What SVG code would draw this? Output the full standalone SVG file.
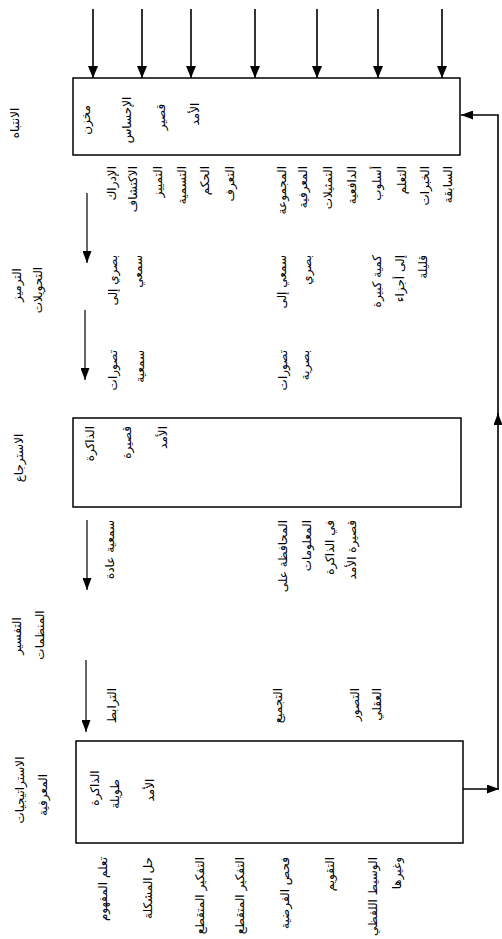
<svg xmlns="http://www.w3.org/2000/svg" width="502" height="939" viewBox="0 0 502 939">
<style>
.box{fill:none;stroke:#000;stroke-width:1.5}
.ln{fill:none;stroke:#000;stroke-width:1.6}
.sl{fill:none;stroke:#000;stroke-width:1.2}
text{font-family:"DejaVu Sans","Noto Sans",sans-serif;font-size:12px;fill:#000}
.e{text-anchor:end}
.m{text-anchor:middle}
</style>
<defs>
<marker id="ah" markerUnits="userSpaceOnUse" markerWidth="12" markerHeight="10" refX="12" refY="5" orient="auto">
<path d="M0,0 L12,5 L0,10 z" fill="#000"/>
</marker>
<marker id="as" markerUnits="userSpaceOnUse" markerWidth="12" markerHeight="9" refX="12" refY="4.5" orient="auto">
<path d="M0,0 L12,4.5 L0,9 z" fill="#000"/>
</marker>
</defs>
<rect width="502" height="939" fill="#fff"/>

<g id="connectors">
<line class="ln" x1="93" y1="9" x2="93" y2="78" marker-end="url(#ah)"/>
<line class="ln" x1="142" y1="9" x2="142" y2="78" marker-end="url(#ah)"/>
<line class="ln" x1="191" y1="9" x2="191" y2="78" marker-end="url(#ah)"/>
<line class="ln" x1="255" y1="9" x2="255" y2="78" marker-end="url(#ah)"/>
<line class="ln" x1="317" y1="9" x2="317" y2="78" marker-end="url(#ah)"/>
<line class="ln" x1="378" y1="9" x2="378" y2="78" marker-end="url(#ah)"/>
<line class="ln" x1="442" y1="9" x2="442" y2="78" marker-end="url(#ah)"/>
<line class="sl" x1="87" y1="193" x2="87" y2="263" marker-end="url(#as)"/>
<line class="sl" x1="85" y1="310" x2="85" y2="380" marker-end="url(#as)"/>
<line class="sl" x1="87" y1="520" x2="87" y2="590" marker-end="url(#as)"/>
<line class="sl" x1="86" y1="660" x2="86" y2="732" marker-end="url(#as)"/>
<line class="ln" x1="463" y1="789" x2="499" y2="789" marker-end="url(#as)"/>
<line class="ln" x1="498" y1="789" x2="498" y2="413" marker-end="url(#as)"/>
<line class="ln" x1="498" y1="420" x2="498" y2="115"/>
<line class="ln" x1="498.8" y1="115" x2="461" y2="115" marker-end="url(#as)"/>
</g>

<g id="label-attention"><text class="m" transform="translate(19,123) rotate(-90)">الانتباه</text></g>
<g id="label-encoding">
<text class="m" transform="translate(21,285) rotate(-90)">الترميز</text>
<text class="m" transform="translate(42,290) rotate(-90)">التحويلات</text>
</g>
<g id="label-retrieval"><text class="m" transform="translate(23,458) rotate(-90)">الاسترجاع</text></g>
<g id="label-interpretation">
<text class="m" transform="translate(21,636) rotate(-90)">التفسير</text>
<text class="m" transform="translate(44,635) rotate(-90)">المنظمات</text>
</g>
<g id="label-strategies">
<text class="m" transform="translate(24,790) rotate(-90)">الاستراتيجيات</text>
<text class="m" transform="translate(47,795) rotate(-90)">المعرفية</text>
</g>

<g id="sensory-memory">
<rect class="box" x="73" y="78" width="387" height="77"/>
<text class="m" transform="translate(90,120) rotate(-90)">مخزن</text>
<text class="m" transform="translate(131,120) rotate(-90)">الإحساس</text>
<text class="m" transform="translate(165,117) rotate(-90)">قصير</text>
<text class="m" transform="translate(199,114) rotate(-90)">الأمد</text>
</g>

<g id="row-perception">
<text class="e" transform="translate(116,166) rotate(-90)">الإدراك</text>
<text class="e" transform="translate(137,166) rotate(-90)">الاكتشاف</text>
<text class="e" transform="translate(162,166) rotate(-90)">التمييز</text>
<text class="e" transform="translate(186,166) rotate(-90)">التسمية</text>
<text class="e" transform="translate(209,166) rotate(-90)">الحكم</text>
<text class="e" transform="translate(234,166) rotate(-90)">التعرف</text>
<text class="e" transform="translate(286,166) rotate(-90)">المجموعة</text>
<text class="e" transform="translate(307,166) rotate(-90)">المعرفية</text>
<text class="e" transform="translate(332,166) rotate(-90)">التمثيلات</text>
<text class="e" transform="translate(356,166) rotate(-90)">الدافعية</text>
<text class="e" transform="translate(381,166) rotate(-90)">أسلوب</text>
<text class="e" transform="translate(406,166) rotate(-90)">التعلم</text>
<text class="e" transform="translate(429,166) rotate(-90)">الخبرات</text>
<text class="e" transform="translate(452,166) rotate(-90)">السابقة</text>
</g>

<g id="row-transforms">
<text class="e" transform="translate(117,255) rotate(-90)">بصري إلى</text>
<text class="e" transform="translate(142,255) rotate(-90)">سمعي</text>
<text class="e" transform="translate(286,255) rotate(-90)">سمعي إلى</text>
<text class="e" transform="translate(311,255) rotate(-90)">بصري</text>
<text class="e" transform="translate(381,255) rotate(-90)">كمية كبيرة</text>
<text class="e" transform="translate(404,255) rotate(-90)">إلى أجزاء</text>
<text class="e" transform="translate(427,255) rotate(-90)">قليلة</text>
</g>

<g id="row-images">
<text class="e" transform="translate(117,350) rotate(-90)">تصورات</text>
<text class="e" transform="translate(144,350) rotate(-90)">سمعية</text>
<text class="e" transform="translate(287,350) rotate(-90)">تصورات</text>
<text class="e" transform="translate(309,350) rotate(-90)">بصرية</text>
</g>

<g id="short-term-memory">
<rect class="box" x="73" y="418" width="388" height="89"/>
<text class="e" transform="translate(94,426) rotate(-90)">الذاكرة</text>
<text class="e" transform="translate(131,426) rotate(-90)">قصيرة</text>
<text class="e" transform="translate(167,426) rotate(-90)">الأمد</text>
</g>

<g id="row-rehearsal">
<text class="e" transform="translate(114,520) rotate(-90)">سمعية عادة</text>
<text class="e" transform="translate(287,520) rotate(-90)">المحافظة على</text>
<text class="e" transform="translate(311,520) rotate(-90)">المعلومات</text>
<text class="e" transform="translate(334,520) rotate(-90)">في الذاكرة</text>
<text class="e" transform="translate(356,520) rotate(-90)">قصيرة الأمد</text>
</g>

<g id="row-association">
<text class="e" transform="translate(116,688) rotate(-90)">الترابط</text>
<text class="e" transform="translate(282,688) rotate(-90)">التجميع</text>
<text class="e" transform="translate(359,688) rotate(-90)">التصور</text>
<text class="e" transform="translate(381,688) rotate(-90)">العقلي</text>
</g>

<g id="long-term-memory">
<rect class="box" x="76" y="741" width="387" height="102"/>
<text class="m" transform="translate(99,788) rotate(-90)">الذاكرة</text>
<text class="m" transform="translate(119,794) rotate(-90)">طويلة</text>
<text class="m" transform="translate(154,790) rotate(-90)">الأمد</text>
</g>

<g id="row-strategies">
<text class="e" transform="translate(107,857) rotate(-90)">تعلم المفهوم</text>
<text class="e" transform="translate(152,857) rotate(-90)">حل المشكلة</text>
<text class="e" transform="translate(204,857) rotate(-90)">التفكير المتقطع</text>
<text class="e" transform="translate(244,857) rotate(-90)">التفكير المتقطع</text>
<text class="e" transform="translate(289,857) rotate(-90)">فحص الفرضية</text>
<text class="e" transform="translate(334,857) rotate(-90)">التقويم</text>
<text class="e" transform="translate(377,857) rotate(-90)">الوسيط اللفظي</text>
<text class="e" transform="translate(401,857) rotate(-90)">وغيرها</text>
</g>
</svg>
